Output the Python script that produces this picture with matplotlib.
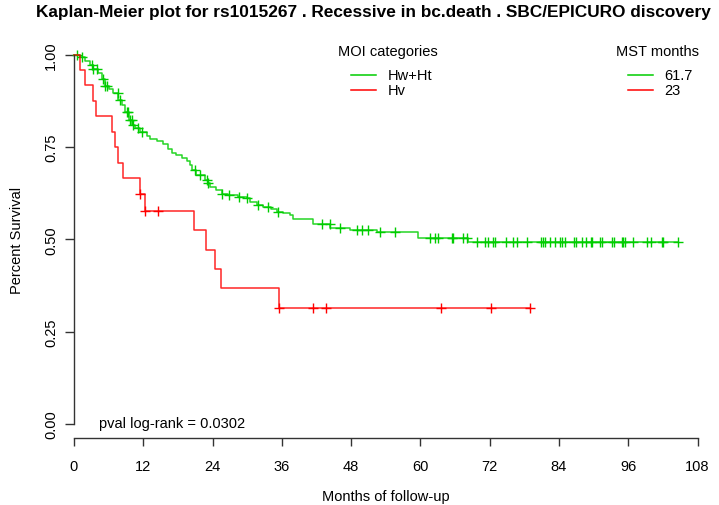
import numpy as np
import matplotlib
matplotlib.use('Agg')
import matplotlib.pyplot as plt
from matplotlib.lines import Line2D

plt.rcParams['font.family'] = ['Liberation Sans', 'DejaVu Sans']

# ---------------- data ----------------
title = "Kaplan-Meier plot for rs1015267 . Recessive in bc.death . SBC/EPICURO discovery"
groups = ["Hw+Ht", "Hv"]
mst_months = ["61.7", "23"]
colors = ["#00CD00", "#FF0000"]
pval_text = "pval log-rank = 0.0302"

# Hw+Ht : drop times (months) and survival after each drop
green_times = [1.04, 1.9, 2.77, 3.34, 4.2, 4.8, 5.37, 6.1, 6.8, 7.7, 8.25, 8.85, 9.45, 10.0,
               10.65, 11.45, 12.6, 13.2, 14.3, 15.45, 16.35, 16.95, 17.75, 18.7, 19.5, 20.1,
               20.4, 21.2, 22.7, 23.25, 23.55, 24.6, 25.6, 26.7, 28.4, 29.95, 30.45, 31.7,
               32.8, 34.2, 35.1, 36.25, 37.45, 37.95, 41.4, 44.4, 47.8, 52.5, 59.6, 68.3]
green_surv = [0.995, 0.984, 0.973, 0.960, 0.951, 0.933, 0.915, 0.906, 0.896, 0.878, 0.864,
              0.846, 0.823, 0.810, 0.801, 0.792, 0.779, 0.773, 0.766, 0.757, 0.746, 0.734,
              0.729, 0.720, 0.711, 0.702, 0.688, 0.674, 0.661, 0.652, 0.643, 0.633, 0.624,
              0.620, 0.615, 0.611, 0.602, 0.592, 0.588, 0.583, 0.574, 0.570, 0.565, 0.556,
              0.541, 0.531, 0.525, 0.519, 0.504, 0.492]
green_end = 104.7
green_censor = [0.47, 1.33, 3.07, 3.34, 3.93, 5.08, 5.37, 5.66, 7.67, 7.97, 9.13, 9.41, 9.7,
                9.99, 10.27, 11.14, 11.73, 20.96, 21.83, 22.99, 23.26, 25.72, 26.85, 28.58,
                30.05, 31.79, 33.52, 35.25, 42.9, 44.34, 46.08, 48.97, 49.84, 50.98, 53.0,
                55.6, 61.67, 62.53, 63.1, 65.43, 65.7, 67.43, 68.02, 69.75, 71.2, 71.77,
                72.63, 72.93, 74.83, 76.1, 76.69, 78.52, 80.84, 81.19, 81.59, 82.45, 83.32,
                84.19, 84.48, 85.06, 86.62, 86.96, 87.95, 88.69, 89.5, 89.78, 91.11, 91.41,
                93.14, 93.59, 94.87, 95.15, 95.45, 96.88, 99.2, 99.9, 101.8, 102.08, 104.68]

# Hv
red_times = [1.0, 1.93, 3.25, 3.86, 6.5, 7.1, 7.7, 8.5, 11.45, 12.3, 20.7, 22.85, 24.5, 25.5, 35.5]
red_surv = [0.958, 0.917, 0.875, 0.833, 0.792, 0.750, 0.708, 0.667, 0.622, 0.578, 0.525,
            0.472, 0.420, 0.367, 0.315]
red_end = 79.0
red_censor = [11.45, 12.3, 14.6, 35.5, 41.4, 43.6, 63.6, 72.3, 79.0]

xticks = [0, 12, 24, 36, 48, 60, 72, 84, 96, 108]
yticks = [0.0, 0.25, 0.5, 0.75, 1.0]
ytick_labels = ["0.00", "0.25", "0.50", "0.75", "1.00"]

# ---------------- figure ----------------
W, H = 719, 506
fig = plt.figure(figsize=(W / 100, H / 100), dpi=100)
ax = fig.add_axes([74 / W, (H - 425) / H, (697.5 - 74) / W, (425 - 55.7) / H])
ax.set_xlim(0, 108)
ax.set_ylim(0, 1)


def px(x, y):
    return x / W, 1 - y / H


def draw_km(times, surv, end, cens, color):
    xs = [0.0] + list(times) + [end]
    ys = [1.0] + list(surv) + [surv[-1]]
    ax.step(xs, ys, where='post', color=color, lw=1.1, clip_on=False, alpha=0.85)
    levels = np.array([1.0] + list(surv))
    idx = np.searchsorted(np.array(times), np.array(cens), side='right')
    ax.plot(cens, levels[idx], linestyle='none', marker='+', markersize=7.5,
            mew=1.0, color=color, clip_on=False)


draw_km(green_times, green_surv, green_end, green_censor, colors[0])
draw_km(red_times, red_surv, red_end, red_censor, colors[1])

for s in ['top', 'right']:
    ax.spines[s].set_visible(False)
ax.spines['left'].set_bounds(0, 1)
ax.spines['bottom'].set_bounds(0, 108)
ax.spines['bottom'].set_position(('outward', 10.3))
for s in ['left', 'bottom']:
    ax.spines[s].set_color('#333333')
    ax.spines[s].set_linewidth(1.0)

ax.set_xticks(xticks)
ax.set_xticklabels([str(v) for v in xticks])
ax.set_yticks(yticks)
ax.set_yticklabels(ytick_labels, rotation=90, va='center')
ax.tick_params(axis='x', length=6, width=1, color='#333333', pad=9, labelsize=10.5)
ax.tick_params(axis='y', length=6.5, width=1, color='#333333', pad=5, labelsize=10.5)

# titles / labels
fig.text(*px(36, 12), title, ha='left', va='center', fontsize=12.4, fontweight='bold')
fig.text(*px(17, 240), "Percent Survival", ha='center', va='center', rotation=90, fontsize=10.5)
fig.text(*px(385.75, 497), "Months of follow-up", ha='center', va='center', fontsize=10.5)
fig.text(*px(99.3, 424.3), pval_text, ha='left', va='center', fontsize=10.5)

# legends
fig.text(*px(387.5, 52.3), "MOI categories", ha='center', va='center', fontsize=10.5)
fig.text(*px(657.5, 52.3), "MST months", ha='center', va='center', fontsize=10.5)
rows_y = [75.7, 91.0]
for i in range(len(groups)):
    y = rows_y[i]
    x0, y0 = px(350.7, y)
    x1, _ = px(375.7, y)
    fig.add_artist(Line2D([x0, x1], [y0, y0], color=colors[i], lw=1.1, transform=fig.transFigure))
    fig.text(*px(388, y), groups[i], ha='left', va='center', fontsize=10.5)
    x0, _ = px(627.7, y)
    x1, _ = px(653.3, y)
    fig.add_artist(Line2D([x0, x1], [y0, y0], color=colors[i], lw=1.1, transform=fig.transFigure))
    fig.text(*px(664.3, y), mst_months[i], ha='left', va='center', fontsize=10.5)

fig.savefig('out.png', dpi=100)
